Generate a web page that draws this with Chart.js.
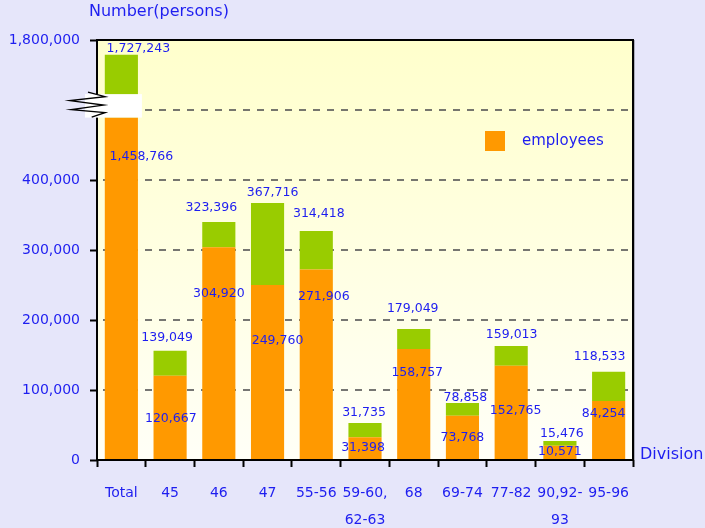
<!DOCTYPE html>
<html><head><meta charset="utf-8">
<script src="https://cdn.jsdelivr.net/npm/chart.js@4.4.1/dist/chart.umd.min.js"></script>
<style>html,body{margin:0;padding:0;background:#e6e6fa;overflow:hidden;}</style>
</head><body>
<canvas id="c" width="705" height="528"></canvas>
<script>
// ---- data ----
const categories = [['Total'],['45'],['46'],['47'],['55-56'],['59-60,','62-63'],['68'],['69-74'],['77-82'],['90,92-','93'],['95-96']];
// bar heights as drawn (persons)
const employeesBar = [1458766, 120500, 304000, 250000, 272000, 32400, 158600, 63300, 134800, 20500, 84300];
const totalBar     = [1727243, 156000, 340000, 367000, 327000, 52900, 187000, 81400, 163000, 27000, 126000];
// printed values
const employeesLabel = [1458766, 120667, 304920, 249760, 271906, 31398, 158757, 73768, 152765, 10571, 84254];
const totalLabel     = [1727243, 139049, 323396, 367716, 314418, 31735, 179049, 78858, 159013, 15476, 118533];
const yTickText = ['0','100,000','200,000','300,000','400,000','','1,800,000'];

// broken axis: values above the break are compressed
const BREAK_REAL = 1400000, BREAK_AXIS = 469500, BREAK_RATIO = 0.334;
const toAxis = v => v > 500000 ? BREAK_AXIS + (v - BREAK_REAL) * BREAK_RATIO : v;

const orangeData = employeesBar.map(toAxis);
const greenData = totalBar.map((t, i) => toAxis(t) - toAxis(employeesBar[i]));

const BLUE = '#1e1ef0';
const FONT = '"DejaVu Sans", sans-serif';
const fmt = n => n.toLocaleString('en-US');

const deco = {
  id: 'deco',
  beforeDraw(chart, args, o) {
    const {ctx, chartArea: a} = chart;
    ctx.save();
    const g = ctx.createLinearGradient(0, a.top, 0, a.bottom);
    g.addColorStop(0, '#ffffcc');
    g.addColorStop(1, '#fffff7');
    ctx.fillStyle = g;
    ctx.fillRect(a.left, a.top, a.right - a.left, a.bottom - a.top);
    const y = chart.scales.y;
    ctx.strokeStyle = '#555555';
    ctx.lineWidth = 1.6;
    ctx.setLineDash([7, 7]);
    for (let v = 100000; v <= 500000; v += 100000) {
      const py = Math.round(y.getPixelForValue(v));
      ctx.beginPath(); ctx.moveTo(a.left + 6, py); ctx.lineTo(a.right, py); ctx.stroke();
    }
    ctx.restore();
  },
  afterDatasetsDraw(chart, args, o) {
    const {ctx, chartArea: a} = chart;
    const m0 = chart.getDatasetMeta(0).data, m1 = chart.getDatasetMeta(1).data;
    ctx.save();
    // frame
    ctx.strokeStyle = '#000'; ctx.lineWidth = 2; ctx.setLineDash([]);
    ctx.strokeRect(a.left, a.top, a.right - a.left, a.bottom - a.top);
    ctx.strokeStyle = 'rgba(0,0,0,0.25)'; ctx.lineWidth = 1;
    ctx.beginPath(); ctx.moveTo(a.right + 1.5, a.top); ctx.lineTo(a.right + 1.5, a.bottom); ctx.stroke();
    // axis break
    const b = m0[0];
    const yb = b.y;
    ctx.fillStyle = '#ffffff';
    ctx.fillRect(a.left - 12, yb - 23.5, (b.x + b.width / 2 + 4) - (a.left - 12), 23.5);
    const zz = [[-9,-25.5],[8,-21],[-27,-17],[6.5,-12.5],[-25.5,-8],[8,-5],[-5.3,-0.5]];
    ctx.strokeStyle = '#000'; ctx.lineWidth = 1.4;
    ctx.beginPath();
    zz.forEach(([dx, dy], i) => { const px = a.left + dx, py = yb + dy; i ? ctx.lineTo(px, py) : ctx.moveTo(px, py); });
    ctx.stroke();
    // value labels
    ctx.fillStyle = BLUE;
    ctx.font = '12.5px ' + FONT;
    ctx.textAlign = 'center'; ctx.textBaseline = 'middle';
    for (let i = 0; i < categories.length; i++) {
      const g = m1[i], r = m0[i];
      ctx.fillText(fmt(totalLabel[i]), g.x + o.topDx[i], g.y + o.topDy[i]);
      ctx.fillText(fmt(employeesLabel[i]), r.x + o.innerDx[i], r.y + o.innerDy[i]);
    }
    // legend
    ctx.fillStyle = '#ff9900';
    ctx.fillRect(a.left + 388, a.top + 91, 20, 20);
    ctx.fillStyle = BLUE;
    ctx.font = '15px ' + FONT;
    ctx.textAlign = 'left';
    ctx.fillText('employees', a.left + 425, a.top + 101);
    // axis titles
    ctx.font = '16px ' + FONT;
    ctx.fillText('Number(persons)', 89, 12);
    ctx.fillText('Division', a.right + 7, a.bottom - 5);
    ctx.restore();
  }
};

new Chart(document.getElementById('c'), {
  type: 'bar',
  data: {
    labels: categories,
    datasets: [
      { label: 'employees', data: orangeData, backgroundColor: '#ff9900', borderWidth: 0 },
      { label: 'others', data: greenData, backgroundColor: '#99cc00', borderWidth: 0 }
    ]
  },
  options: {
    responsive: false, animation: false, devicePixelRatio: 1,
    layout: { padding: { top: 40, right: 72, left: 0, bottom: 0 } },
    datasets: { bar: { barPercentage: 0.68, categoryPercentage: 1 } },
    plugins: {
      legend: { display: false }, tooltip: { enabled: false },
      deco: {
        topDx:   [17, -3, -7.5, 5, 2.5, -1, -1, 3, 0.5, 2, -9],
        topDy:   [-6.3, -13, -14.5, -10.5, -17, -10.5, -20, -5.5, -11, -7.5, -15],
        innerDx: [20, 0.7, 0, 10, 7.5, -2, 3.5, 0, 4.5, 0, -5],
        innerDy: [39, 43, 47, 56, 27.5, 10, 24, 22, 45, 6, 13]
      }
    },
    scales: {
      x: {
        stacked: true,
        grid: { offset: true, drawOnChartArea: false, tickLength: 7, tickColor: '#000', tickWidth: 2 },
        border: { display: false },
        ticks: { color: BLUE, font: { family: FONT, size: 14, lineHeight: 1.93 }, padding: 13, maxRotation: 0, autoSkip: false },
        afterFit(s) { s.height = 68; }
      },
      y: {
        stacked: true, min: 0, max: 600000,
        grid: { drawOnChartArea: false, tickLength: 7, tickColor: '#000', tickWidth: 2 },
        border: { display: false },
        ticks: { stepSize: 100000, color: BLUE, font: { family: FONT, size: 14 }, padding: 10,
                 callback: v => yTickText[Math.round(v / 100000)] },
        afterFit(s) { s.width = 97; }
      }
    }
  },
  plugins: [deco]
});
</script>
</body></html>
